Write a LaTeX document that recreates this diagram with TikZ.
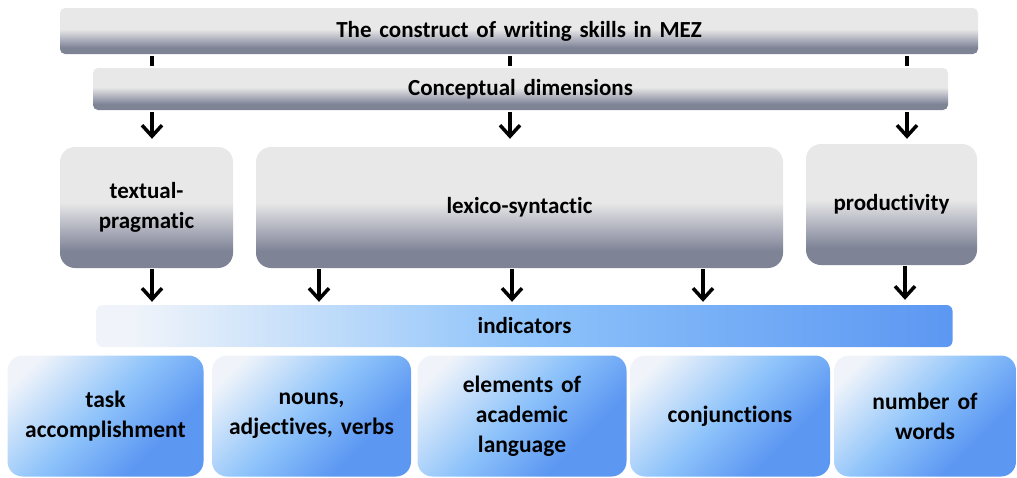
\documentclass[tikz,border=0pt]{standalone}
\usepackage{fontspec}
\setmainfont{Carlito}[Ligatures=CommonOff, WordSpace=1.5]
\usetikzlibrary{arrows.meta}
\definecolor{glight}{HTML}{E8E8E8}
\definecolor{gmid}{HTML}{B3B5C0}
\definecolor{gdark}{HTML}{7E8396}
\definecolor{bwhite}{HTML}{F0F4FA}
\definecolor{bmid}{HTML}{8EC3FA}
\definecolor{bdark}{HTML}{5C97F2}
\pgfdeclareverticalshading{graygrad}{100bp}{color(0bp)=(gdark); color(32bp)=(gdark); color(42bp)=(gmid); color(52bp)=(glight); color(100bp)=(glight)}
\pgfdeclarehorizontalshading{bluebar}{100bp}{color(0bp)=(bwhite); color(27bp)=(bwhite); color(50bp)=(bmid); color(75bp)=(bdark); color(100bp)=(bdark)}
\pgfdeclarehorizontalshading{bluebox}{100bp}{color(0bp)=(bwhite); color(22bp)=(bwhite); color(48bp)=(bmid); color(68bp)=(bdark); color(100bp)=(bdark)}
\tikzset{
  graybar/.style={shading=graygrad, rounded corners=5pt, inner sep=0pt, font=\bfseries\fontsize{23}{28}\selectfont},
  graybox/.style={shading=graygrad, rounded corners=15pt, inner sep=0pt, align=center, font=\bfseries\fontsize{23}{30}\selectfont},
  indbar/.style={shading=bluebar, rounded corners=6pt, inner sep=0pt, font=\bfseries\fontsize{23}{28}\selectfont},
  indbox/.style={shading=bluebox, shading angle=-45, rounded corners=15pt, inner sep=0pt, align=center, font=\bfseries\fontsize{23.5}{30}\selectfont},
  arr/.style={line width=3.5pt, -{Straight Barb[length=11pt,width=20pt,line width=3.5pt]}},
  tick/.style={line width=3.5pt}
}
\begin{document}
\begin{tikzpicture}[x=1pt,y=-1pt]
\useasboundingbox (0,0) rectangle (1017,477);
% top bars
\node[graybar, minimum width=918pt, minimum height=46pt] (top) at (519,31) {The construct of writing skills in MEZ};
\node[graybar, minimum width=855pt, minimum height=42pt] (cd) at (520.5,89) {Conceptual dimensions};
% dimension boxes
\node[graybox, minimum width=173pt, minimum height=121pt] (tp) at (146.5,207.5) {textual-\\pragmatic};
\node[graybox, minimum width=527pt, minimum height=121pt] (ls) at (519.5,207.5) {lexico-syntactic};
\node[graybox, minimum width=171pt, minimum height=121pt] (pr) at (891.5,204.5) {productivity};
% indicators
\node[indbar, minimum width=856pt, minimum height=42pt] (ind) at (524.5,326) {indicators};
% bottom boxes
\node[indbox, minimum width=196pt, minimum height=121pt] (b1) at (105.5,416) {task\\accomplishment};
\node[indbox, minimum width=199pt, minimum height=121pt] (b2) at (311.5,416) {nouns,\\adjectives, verbs};
\node[indbox, minimum width=209pt, minimum height=121pt] (b3) at (522,416) {elements of\\academic\\language};
\node[indbox, minimum width=200pt, minimum height=121pt] (b4) at (730,416) {conjunctions};
\node[indbox, minimum width=182pt, minimum height=121pt] (b5) at (925,416) {number of\\words};
% x positions
\coordinate (xa) at (152,0);
\coordinate (xb) at (510,0);
\coordinate (xc) at (907,0);
\coordinate (xd) at (319,0);
\coordinate (xe) at (512,0);
\coordinate (xf) at (703,0);
\coordinate (xg) at (905,0);
% ticks between top bars
\draw[tick, shorten <=2pt, shorten >=2pt] (top.south -| xa) -- (cd.north -| xa);
\draw[tick, shorten <=2pt, shorten >=2pt] (top.south -| xb) -- (cd.north -| xb);
\draw[tick, shorten <=2pt, shorten >=2pt] (top.south -| xc) -- (cd.north -| xc);
% arrows to dimensions
\draw[arr, shorten <=2pt, shorten >=8pt] (cd.south -| xa) -- (tp.north -| xa);
\draw[arr, shorten <=2pt, shorten >=8pt] (cd.south -| xb) -- (ls.north -| xb);
\draw[arr, shorten <=2pt, shorten >=5pt] (cd.south -| xc) -- (pr.north -| xc);
% arrows to indicators
\draw[arr, shorten <=1pt, shorten >=3pt] (tp.south -| xa) -- (ind.north -| xa);
\draw[arr, shorten <=1pt, shorten >=3pt] (ls.south -| xd) -- (ind.north -| xd);
\draw[arr, shorten <=1pt, shorten >=3pt] (ls.south -| xe) -- (ind.north -| xe);
\draw[arr, shorten <=1pt, shorten >=3pt] (ls.south -| xf) -- (ind.north -| xf);
\draw[arr, shorten <=1pt, shorten >=5pt] (pr.south -| xg) -- (ind.north -| xg);
\end{tikzpicture}
\end{document}
